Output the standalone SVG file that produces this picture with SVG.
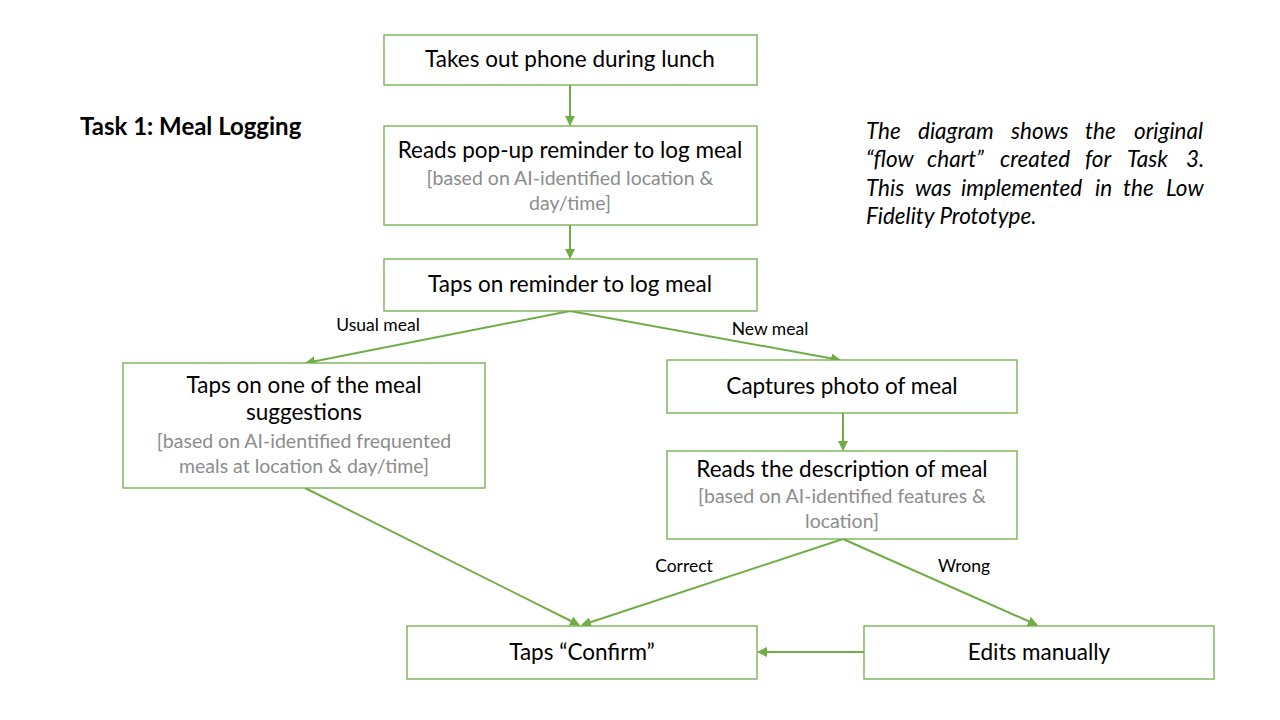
<svg xmlns="http://www.w3.org/2000/svg" width="1280" height="720" viewBox="0 0 1280 720">
<defs>
<style>
.box{fill:#fff;stroke:#70AD47;stroke-width:1.3}
.t{font-family:Lato,"Open Sans",sans-serif;font-size:22.5px;fill:#000;text-anchor:middle}
.g{font-family:Lato,"Open Sans",sans-serif;font-size:19.5px;fill:#8c8c8c;text-anchor:middle}
.lbl{font-family:Lato,"Open Sans",sans-serif;font-size:17.5px;fill:#000;text-anchor:middle}
.c{stroke:#70AD47;stroke-width:2;fill:none;marker-end:url(#ah)}
.note{font-family:Lato,"Open Sans",sans-serif;font-size:22.5px;font-style:italic;fill:#000}
</style>
<marker id="ah" viewBox="0 0 10 10" refX="9" refY="5" markerWidth="5" markerHeight="5" orient="auto" markerUnits="strokeWidth">
<path d="M0,0 L10,5 L0,10 z" fill="#70AD47"/>
</marker>
</defs>
<rect width="1280" height="720" fill="#fff"/>
<text x="80" y="135" font-family="Lato,'Open Sans',sans-serif" font-size="24" font-weight="bold">Task 1: Meal Logging</text>
<g id="note">
<text class="note" y="139"><tspan x="866">The</tspan><tspan x="918">diagram</tspan><tspan x="1011">shows</tspan><tspan x="1085">the</tspan><tspan x="1134">original</tspan></text>
<text class="note" y="167"><tspan x="866">“flow</tspan><tspan x="927">chart”</tspan><tspan x="1000">created</tspan><tspan x="1085">for</tspan><tspan x="1127">Task</tspan><tspan x="1186">3.</tspan></text>
<text class="note" y="196"><tspan x="866">This</tspan><tspan x="915">was</tspan><tspan x="961">implemented</tspan><tspan x="1095">in</tspan><tspan x="1123">the</tspan><tspan x="1166">Low</tspan></text>
<text class="note" x="866" y="224">Fidelity Prototype.</text>
</g>
<g id="connectors">
<line class="c" x1="570" y1="85" x2="570" y2="125"/>
<line class="c" x1="570" y1="225" x2="570" y2="258"/>
<line class="c" x1="570" y1="311" x2="306" y2="363"/>
<line class="c" x1="570" y1="311" x2="840" y2="360"/>
<line class="c" x1="843" y1="413" x2="843" y2="450"/>
<line class="c" x1="305" y1="488" x2="579" y2="625"/>
<line class="c" x1="843" y1="539" x2="582" y2="625"/>
<line class="c" x1="843" y1="539" x2="1037" y2="625"/>
<line class="c" x1="864" y1="652" x2="758" y2="652"/>
<text class="lbl" x="378" y="331">Usual meal</text>
<text class="lbl" x="770" y="335">New meal</text>
<text class="lbl" x="684" y="572">Correct</text>
<text class="lbl" x="964" y="572">Wrong</text>
</g>
<g id="n1"><rect class="box" x="384" y="35" width="373" height="50"/><text class="t" x="570" y="67">Takes out phone during lunch</text></g>
<g id="n2"><rect class="box" x="384" y="126" width="373" height="99"/><text class="t" x="570" y="158">Reads pop-up reminder to log meal</text><text class="g" x="570" y="185">[based on AI-identified location &amp;</text><text class="g" x="570" y="210">day/time]</text></g>
<g id="n3"><rect class="box" x="384" y="259" width="373" height="52"/><text class="t" x="570" y="292">Taps on reminder to log meal</text></g>
<g id="n4"><rect class="box" x="123" y="363" width="362" height="125"/><text class="t" x="304" y="393">Taps on one of the meal</text><text class="t" x="304" y="420">suggestions</text><text class="g" x="304" y="448">[based on AI-identified frequented</text><text class="g" x="304" y="473">meals at location &amp; day/time]</text></g>
<g id="n5"><rect class="box" x="667" y="360" width="350" height="53"/><text class="t" x="842" y="394">Captures photo of meal</text></g>
<g id="n6"><rect class="box" x="667" y="451" width="350" height="88"/><text class="t" x="842" y="477">Reads the description of meal</text><text class="g" x="842" y="503">[based on AI-identified features &amp;</text><text class="g" x="842" y="528">location]</text></g>
<g id="n7"><rect class="box" x="407" y="626" width="350" height="53"/><text class="t" x="582" y="660">Taps “Confirm”</text></g>
<g id="n8"><rect class="box" x="864" y="626" width="350" height="53"/><text class="t" x="1039" y="660">Edits manually</text></g>
</svg>
